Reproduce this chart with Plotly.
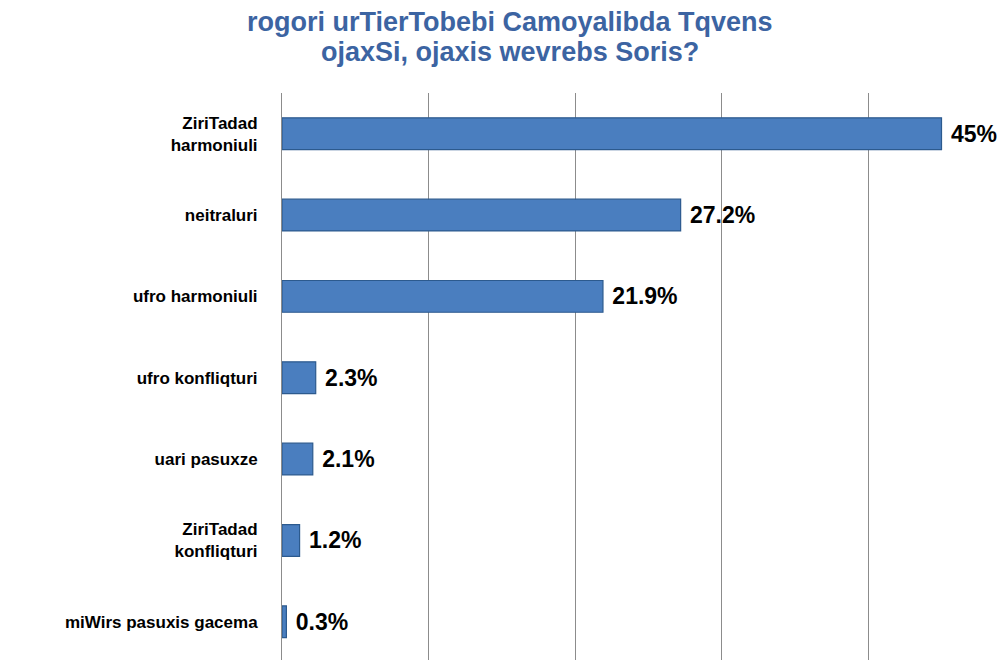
import plotly.graph_objects as go

categories = [
    "ZiriTadad<br>harmoniuli",
    "neitraluri",
    "ufro harmoniuli",
    "ufro konfliqturi",
    "uari pasuxze",
    "ZiriTadad<br>konfliqturi",
    "miWirs pasuxis gacema",
]
values = [45, 27.2, 21.9, 2.3, 2.1, 1.2, 0.3]
value_labels = ["45%", "27.2%", "21.9%", "2.3%", "2.1%", "1.2%", "0.3%"]
title_lines = ["rogori urTierTobebi Camoyalibda Tqvens", "ojaxSi, ojaxis wevrebs Soris?"]

FONT = "Liberation Sans, Arial, sans-serif"

fig = go.Figure(go.Bar(
    x=values,
    y=categories,
    orientation="h",
    width=0.39,
    marker=dict(color="#4A7EBF", line=dict(color="#2C5A8E", width=1.2)),
    text=[" " + t for t in value_labels],
    textposition="outside",
    cliponaxis=False,
    textfont=dict(family=FONT, size=23, color="#000000", weight="bold"),
))

for line, ypos in zip(title_lines, [1.125, 1.072]):
    fig.add_annotation(
        text=line,
        xref="paper", yref="paper",
        x=0.315, y=ypos, xanchor="center", yanchor="middle",
        showarrow=False,
        font=dict(family=FONT, size=27, color="#3C64A2", weight="bold"),
    )

fig.update_layout(
    width=998, height=652,
    margin=dict(l=274, r=0, t=85, b=0),
    paper_bgcolor="white", plot_bgcolor="white",
    showlegend=False,
    xaxis=dict(
        range=[0, 49.4],
        dtick=10,
        showticklabels=False,
        showgrid=True, gridcolor="#8C8C8C", gridwidth=1,
        zeroline=False, showline=False,
        automargin=False,
    ),
    yaxis=dict(
        range=[6.47, -0.5],
        showgrid=False,
        showline=True, linecolor="#8C8C8C", linewidth=1,
        ticks="",
        ticklabelstandoff=20,
        automargin=False,
        tickfont=dict(family=FONT, size=17, color="#000000", weight="bold"),
    ),
)

fig.write_html("out.html")
